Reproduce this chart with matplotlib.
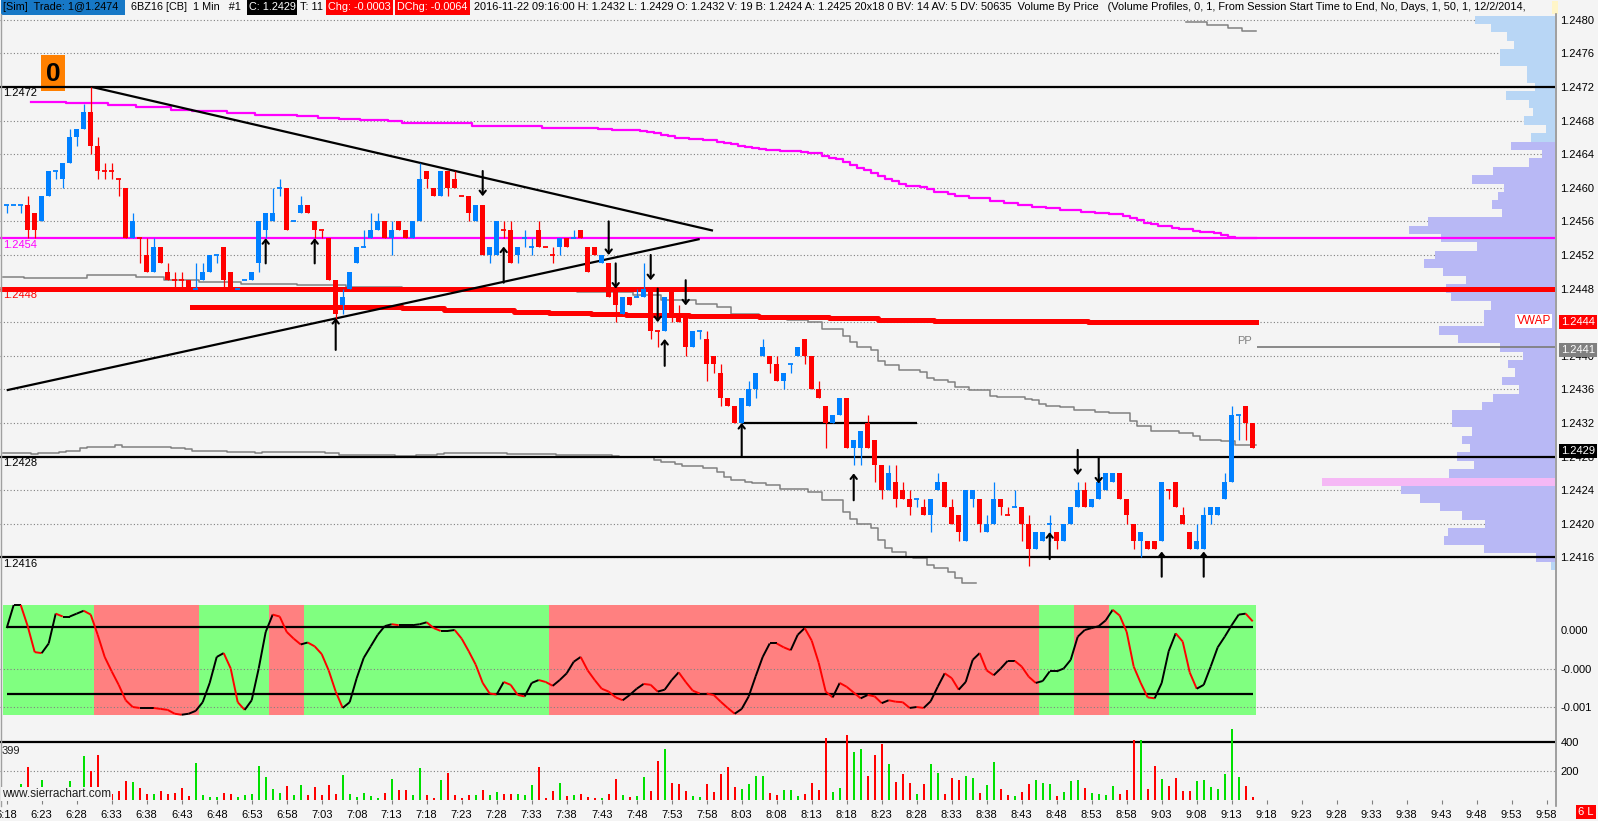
import matplotlib
matplotlib.use("Agg")
import matplotlib.pyplot as plt
import matplotlib.patches as patches
from matplotlib.collections import LineCollection
from matplotlib.lines import Line2D
from matplotlib.ticker import FormatStrFormatter
import numpy as np

plt.rcParams['font.family'] = ['Liberation Sans', 'DejaVu Sans']
plt.rcParams['font.size'] = 8

# ---------------------------------------------------------------- data
# 6BZ16 1-min bars from 6:18 to 9:16, prices in ticks (0.0001) above 1.2400
TICK = 0.0001
BASE = 1.2400
START_MIN = 6 * 60 + 18

opens = [58, 58, 58, 58, 57, 56, 59, 62, 61, 63,
         66, 67, 69, 65, 62, 62, 61, 60, 54, 54,
         52, 50, 53, 50, 49, 49, 49, 48, 49, 50,
         52, 53, 50, 48, 49, 49, 51, 55, 56, 60,
         60, 56, 57, 58, 56, 55, 54, 49, 46, 48,
         51, 53, 54, 55, 56, 54, 56, 55, 54, 56,
         62, 60, 59, 62, 61, 59, 59, 56, 58, 52,
         52, 55, 55, 52, 54, 53, 55, 53, 52, 53,
         54, 54, 55, 53, 53, 51, 51, 48, 45, 47,
         47, 47, 48, 43, 43, 48, 45, 45, 41, 43,
         42, 40, 38, 35, 34, 32, 34, 36, 40, 40,
         39, 37, 39, 40, 42, 40, 36, 34, 32, 33,
         35, 29, 29, 32, 30, 27, 24, 25, 24, 23,
         23, 22, 21, 24, 25, 22, 21, 18, 23, 23,
         19, 20, 23, 21, 22, 22, 20, 17, 18, 20,
         19, 18, 20, 22, 24, 22, 23, 24, 25, 26,
         23, 20, 18, 18, 18, 18, 24, 25, 21, 19,
         17, 17, 21, 21, 23, 25, 33, 34, 32]
highs = [58, 58, 58, 59, 57, 59, 62, 62, 63, 67,
         67, 70, 72, 66, 63, 63, 61, 60, 57, 54,
         54, 54, 53, 51, 50, 50, 49, 51, 51, 52,
         52, 53, 50, 48, 49, 50, 56, 57, 60, 61,
         60, 56, 59, 58, 56, 55, 54, 49, 48, 50,
         53, 55, 57, 57, 56, 56, 56, 55, 56, 63,
         62, 60, 62, 62, 62, 59, 59, 58, 58, 53,
         56, 56, 56, 53, 55, 54, 56, 53, 53, 54,
         54, 55, 55, 53, 53, 52, 51, 48, 47, 47,
         48, 51, 48, 43, 47, 48, 46, 45, 43, 43,
         43, 40, 39, 35, 34, 35, 37, 38, 42, 40,
         40, 38, 39, 41, 42, 40, 37, 34, 33, 35,
         35, 30, 31, 33, 30, 27, 27, 27, 25, 24,
         23, 23, 23, 26, 25, 23, 21, 24, 24, 23,
         21, 25, 23, 22, 24, 22, 21, 19, 19, 21,
         19, 20, 22, 25, 25, 23, 26, 26, 26, 26,
         23, 20, 19, 18, 18, 25, 24, 25, 22, 19,
         20, 22, 22, 22, 26, 34, 33, 34, 32]
lows = [57, 58, 57, 54, 54, 56, 59, 61, 60, 63,
        65, 67, 64, 61, 61, 61, 59, 54, 54, 51,
        50, 50, 51, 49, 48, 48, 48, 48, 49, 50,
        51, 48, 48, 48, 49, 49, 50, 54, 56, 59,
        55, 56, 57, 57, 54, 54, 49, 44, 45, 48,
        51, 53, 54, 55, 54, 52, 55, 54, 54, 56,
        60, 59, 59, 59, 60, 59, 56, 56, 52, 51,
        52, 54, 51, 51, 53, 52, 53, 53, 51, 52,
        53, 54, 54, 50, 52, 51, 47, 44, 45, 46,
        47, 47, 42, 41, 43, 44, 44, 40, 41, 42,
        37, 38, 34, 34, 32, 32, 34, 35, 40, 38,
        37, 36, 38, 40, 39, 36, 35, 29, 32, 33,
        29, 27, 27, 29, 25, 23, 24, 22, 23, 21,
        22, 21, 19, 24, 22, 20, 18, 18, 22, 19,
        19, 20, 21, 21, 22, 18, 15, 17, 18, 18,
        17, 18, 20, 22, 22, 22, 23, 24, 25, 23,
        20, 17, 16, 17, 17, 18, 23, 22, 20, 17,
        17, 17, 20, 21, 23, 25, 30, 30, 29]
closes = [58, 58, 58, 55, 55, 59, 62, 62, 63, 66,
          67, 69, 65, 62, 62, 62, 61, 54, 56, 54,
          50, 53, 51, 49, 49, 49, 48, 48, 50, 52,
          52, 49, 48, 48, 49, 50, 56, 57, 57, 60,
          55, 56, 58, 57, 55, 55, 49, 45, 47, 50,
          53, 53, 55, 56, 54, 55, 55, 54, 56, 61,
          61, 59, 62, 60, 60, 59, 57, 58, 52, 53,
          56, 55, 51, 53, 54, 53, 53, 53, 52, 54,
          53, 54, 54, 50, 52, 52, 47, 46, 47, 46,
          47, 48, 43, 43, 47, 45, 44, 41, 43, 43,
          39, 39, 35, 34, 32, 35, 36, 38, 41, 39,
          37, 38, 39, 41, 40, 36, 35, 32, 33, 35,
          29, 30, 31, 29, 27, 24, 26, 23, 23, 22,
          23, 21, 23, 25, 22, 20, 19, 24, 24, 20,
          20, 23, 22, 21, 22, 20, 17, 19, 19, 20,
          18, 20, 22, 24, 22, 23, 25, 26, 26, 23,
          21, 18, 19, 17, 17, 25, 24, 22, 20, 17,
          18, 21, 22, 22, 25, 33, 33, 32, 29]
# dojis printed in the up colour
blue_dojis = [0, 1, 2, 7, 27, 30, 33, 34, 39, 41, 51, 74, 75, 81, 90, 99,
              112, 130, 144, 149, 176]

volumes = [40, 30, 112, 226, 50, 140, 45, 30, 50, 133,
           60, 307, 203, 315, 50, 40, 63, 133, 123, 86,
           42, 42, 63, 42, 47, 86, 30, 256, 35, 21,
           21, 49, 42, 21, 35, 42, 233, 161, 77, 49,
           98, 35, 105, 35, 93, 35, 105, 42, 175, 42,
           21, 49, 30, 16, 49, 147, 70, 70, 35, 224,
           35, 14, 140, 189, 35, 14, 35, 35, 70, 35,
           56, 42, 42, 42, 35, 105, 226, 14, 63, 119,
           28, 35, 42, 21, 14, 14, 42, 147, 35, 21,
           28, 161, 63, 268, 356, 119, 112, 63, 28, 21,
           112, 56, 182, 226, 91, 77, 112, 168, 168, 49,
           35, 70, 70, 28, 42, 119, 70, 433, 56, 84,
           447, 336, 356, 168, 315, 391, 252, 126, 182, 119,
           42, 112, 252, 189, 42, 154, 140, 168, 154, 49,
           105, 266, 77, 35, 28, 56, 112, 140, 119, 112,
           28, 56, 133, 140, 84, 49, 42, 35, 98, 42,
           70, 419, 419, 77, 238, 147, 98, 154, 63, 63,
           133, 140, 91, 77, 182, 489, 161, 98, 19]

# oscillator study, units of 1e-4
osc = [0.2, 2.6, 2.6, 0.4, -2.3, -2.4, -1.4, 1.7, 1.4, 1.4,
       1.7, 2.0, 1.6, -0.5, -2.8, -4.3, -5.7, -7.3, -8.0, -8.1,
       -8.1, -8.1, -8.2, -8.3, -8.7, -8.8, -8.7, -8.4, -7.5, -5.5,
       -2.8, -2.4, -4.0, -7.5, -8.3, -7.3, -4.0, -0.2, 1.6, 1.4,
       -0.2, -0.9, -1.5, -1.3, -1.7, -2.5, -4.2, -6.4, -8.1, -7.5,
       -5.0, -2.9, -1.7, -0.5, 0.4, 0.6, 0.5, 0.5, 0.5, 0.6,
       0.8, 0.2, -0.1, -0.1, 0.0, -0.9, -2.2, -3.6, -5.5, -6.6,
       -6.7, -5.4, -5.7, -6.75, -6.9, -5.5, -5.2, -5.4, -5.8, -5.2,
       -4.5, -3.3, -2.8, -4.2, -5.2, -6.1, -6.4, -7.0, -7.3, -6.75,
       -6.1, -5.6, -5.7, -6.4, -6.2, -5.2, -4.4, -5.4, -6.3, -6.6,
       -6.6, -6.75, -7.45, -8.1, -8.7, -8.2, -6.9, -4.8, -2.8, -1.4,
       -1.4, -1.8, -2.1, -0.5, 0.2, -1.1, -3.4, -6.4, -7.0, -5.5,
       -5.9, -6.5, -7.1, -6.75, -6.9, -7.6, -7.3, -7.45, -7.5, -8.1,
       -8.0, -8.1, -7.4, -5.9, -4.5, -5.0, -6.2, -5.4, -3.1, -2.4,
       -4.2, -4.7, -4.0, -3.2, -3.2, -3.8, -4.85, -5.5, -5.3, -4.3,
       -4.3, -4.0, -3.1, -0.7, 0.0, 0.2, 0.4, 1.0, 2.1, 1.5,
       -0.2, -3.8, -5.5, -7.0, -7.1, -5.5, -2.2, -0.35, -1.2, -4.4,
       -6.1, -5.7, -3.8, -1.8, -0.7, 0.5, 1.6, 1.7, 0.9]
osc_bands = [(0, 12, 'g'), (13, 27, 'r'), (28, 37, 'g'), (38, 42, 'r'),
             (43, 77, 'g'), (78, 147, 'r'), (148, 152, 'g'), (153, 157, 'r'),
             (158, 178, 'g')]
osc_band_top, osc_band_bottom = 2.6, -8.83
osc_levels = [0.35, -6.68]

# step studies: (first bar, value in ticks)
mag_starts = [4, 9, 15, 19, 24, 27, 32, 36, 42, 45, 48, 51, 55, 57, 67, 77, 85, 87, 91, 92,
              93, 94, 95, 96, 98, 100, 102, 103, 104, 105, 106, 107, 108, 109, 111, 114, 115, 117, 118, 119,
              120, 121, 122, 123, 124, 125, 126, 127, 128, 129, 131, 132, 133, 135, 136, 138, 141, 143, 145, 147,
              149, 151, 152, 154, 156, 158, 160, 161, 162, 163, 164, 165, 167, 168, 170, 171, 173, 174, 175, 176]
mag_vals = [70.25, 70.05, 69.85, 69.65, 69.3, 69.1, 68.9, 68.7, 68.5, 68.3,
            68.15, 68.07, 67.9, 67.7, 67.4, 67.15, 67.0, 66.88, 66.76, 66.64,
            66.5, 66.3, 66.16, 65.97, 65.8, 65.7, 65.5, 65.33, 65.17, 65.0,
            64.85, 64.7, 64.6, 64.5, 64.4, 64.26, 64.2, 63.8, 63.6, 63.4,
            63.1, 62.7, 62.4, 62.1, 61.8, 61.4, 61.0, 60.8, 60.5, 60.25,
            60.1, 59.85, 59.5, 59.3, 59.0, 58.8, 58.4, 58.2, 57.95, 57.75,
            57.6, 57.4, 57.3, 57.1, 56.95, 56.9, 56.7, 56.4, 56.2, 55.85,
            55.65, 55.4, 55.2, 55.1, 54.9, 54.7, 54.6, 54.4, 54.2, 54.05]
upper_starts = [0, 3, 12, 19, 23, 28, 34, 42, 49, 57, 70, 82, 90, 94, 99, 102, 104, 108, 112, 115,
                117, 120, 121, 122, 124, 125, 126, 128, 131, 132, 133, 135, 136, 138, 141, 142, 146, 147, 148, 149,
                151, 153, 156, 158, 161, 162, 164, 168, 170, 171, 174, 176]
upper_vals = [49.4, 49.3, 49.6, 49.4, 49.0, 48.8, 48.6, 48.4, 48.2, 48.0,
              47.8, 47.55, 47.2, 46.6, 46.2, 45.8, 45.0, 44.6, 44.3, 44.06,
              43.15, 42.3, 41.7, 41.1, 40.7, 39.4, 38.9, 38.3, 38.1, 37.3,
              37.1, 36.9, 36.3, 35.9, 35.2, 35.05, 34.9, 34.7, 34.3, 34.0,
              33.9, 33.5, 33.35, 33.15, 32.2, 31.6, 31.1, 30.8, 30.4, 30.0, 29.9, 29.4]
lower_starts = [0, 4, 5, 8, 9, 11, 12, 13, 16, 17, 20, 24, 26, 27, 32, 36, 37, 46, 48, 56,
                59, 62, 63, 72, 79, 87, 88, 93, 94, 96, 97, 100, 102, 103, 104, 106, 107, 109, 111, 115,
                117, 120, 121, 122, 124, 125, 126, 127, 129, 130, 132, 133, 135, 136, 137]
lower_vals = [28.39, 28.27, 28.39, 28.5, 28.67, 28.98, 29.1, 29.2, 29.34, 29.2,
              29.1, 28.98, 28.87, 28.67, 28.55, 28.43, 28.55, 28.43, 28.15, 28.03,
              28.15, 28.31, 28.43, 28.31, 28.15, 28.03, 27.95, 27.6, 27.4, 27.1,
              26.9, 26.6, 26.2, 25.6, 25.2, 25.0, 24.8, 24.6, 24.2, 23.8,
              22.8, 21.4, 20.6, 20.0, 19.5, 18.1, 17.1, 16.7, 16.0, 15.9,
              15.1, 14.7, 14.3, 13.5, 13.0]
top_starts = [169, 172, 175, 177]
top_vals = [79.7, 79.4, 79.0, 78.7]
vwap_starts = [27, 57, 63, 68, 73, 78, 84, 89, 98, 108, 118, 125, 133, 140, 155]
vwap_vals = [45.8, 45.65, 45.45, 45.4, 45.25, 45.1, 44.97, 44.86, 44.77, 44.65,
             44.45, 44.3, 44.2, 44.14, 44.05]

# drawn tools
level_prices = [1.2472, 1.2454, 1.2448, 1.2428, 1.2416]
pp_price = 1.2441
short_line = (105, 130, 1.2432)
tri_upper = [(12.2, 72.0), (100.9, 54.9)]
tri_lower = [(0.0, 35.9), (99.0, 53.9)]
# (bar, tail, tip) in ticks
up_arrows = [(37, 51, 54), (44, 51, 54), (47, 40.7, 44.5), (71, 48.7, 53), (94, 38.8, 42),
             (105, 28, 32), (121, 22.8, 26), (149, 15.8, 19), (165, 13.7, 16.7), (171, 13.7, 16.7)]
down_arrows = [(68, 62, 59), (86, 56, 52), (87, 51, 48), (92, 52, 49), (93, 48, 44),
               (97, 49, 46), (153, 28.8, 25.8), (156, 27.9, 24.8)]

# volume by price, rows from 1.2480 down to 1.2415
profile_top = 80
profile_vol = [80, 64, 48, 41, 55, 55, 28, 28, 20, 49, 26, 22, 31, 9, 24,
               44, 13, 26, 62, 83, 51, 57, 63, 53, 127, 146, 114, 78, 120, 131,
               112, 89, 109, 104, 64, 71, 71, 116, 97, 55, 32, 47, 40, 53, 36,
               62, 73, 103, 103, 83, 93, 85, 98, 81, 106, 233, 154, 135, 115, 93,
               70, 107, 111, 71, 19, 4]
profile_poc = 25
value_area = (16, 65)

# ---------------------------------------------------------------- style
W, H = 1598, 821
BG = '#F4F4F4'
BLUE = '#0080FF'
RED = '#FF0000'
GREEN = '#00E000'
GRID = '#808080'
X0, X1 = -6.7 / 7, (1555 - 6.7) / 7


def px(t):
    return BASE + np.asarray(t, dtype=float) * TICK


fig = plt.figure(figsize=(W / 100, H / 100), dpi=100)
fig.patch.set_facecolor(BG)


def add_px_axes(x0, y0, x1, y1):
    a = fig.add_axes([x0 / W, 1 - y1 / H, (x1 - x0) / W, (y1 - y0) / H])
    a.set_facecolor('none')
    for s in a.spines.values():
        s.set_visible(False)
    a.set_xlim(X0, X1)
    a.yaxis.set_ticks_position('right')
    a.tick_params(axis='y', length=0, pad=4, labelsize=8)
    return a


def ftext(x, y, s, **kw):
    return fig.text(x / W, 1 - y / H, s, **kw)


def frect(x0, y0, x1, y1, color, z=1):
    r = patches.Rectangle((x0 / W, 1 - y1 / H), (x1 - x0) / W, (y1 - y0) / H,
                          transform=fig.transFigure, facecolor=color,
                          edgecolor='none', zorder=z)
    fig.add_artist(r)


def step_line(ax, starts, vals, end, **kw):
    xs = [s - 0.5 for s in starts] + [end]
    ys = list(px(vals)) + [px(vals[-1])]
    ax.step(xs, ys, where='post', **kw)


n = len(opens)
idx = np.arange(n)
o_t, h_t, l_t, c_t = (np.array(v) for v in (opens, highs, lows, closes))
up = (c_t > o_t) | ((c_t == o_t) & np.isin(idx, blue_dojis))

# ---------------------------------------------------------------- price pane
ax = add_px_axes(0, 16, 1555, 590)
ax.set_ylim(px(12.12), px(80.45))
ax.set_xticks([])
grid_prices = px(np.arange(16, 81, 4))
ax.set_yticks(grid_prices)
ax.yaxis.set_major_formatter(FormatStrFormatter('%.4f'))
ax.hlines(grid_prices, X0, X1, colors=GRID, linestyles=(0, (1, 2)), lw=0.8, zorder=0.5)

# volume profile on the right edge
rows = profile_top - np.arange(len(profile_vol))
pw = np.array(profile_vol) / 7.0
pcol = ['#F5B8F5' if r == profile_poc else
        ('#B8B8F5' if value_area[0] <= r <= value_area[1] else '#B8D6F5') for r in rows]
ax.barh(px(rows), pw, height=TICK, left=X1 - pw, color=pcol, linewidth=0, zorder=1)

# orange bar counter box
ax.add_patch(patches.Rectangle((41 / W, 1 - 91 / H), 24 / W, 36 / H, transform=fig.transFigure,
                               facecolor='#FF8000', edgecolor='none', zorder=1.5))
ax.text(53 / W, 1 - 74 / H, '0', transform=fig.transFigure, ha='center', va='center',
        fontsize=19, fontweight='bold', color='black', zorder=1.6)

# studies
step_line(ax, lower_starts, lower_vals, 138.5, color='#808080', lw=1.1, zorder=2)
step_line(ax, upper_starts, upper_vals, 178.5, color='#808080', lw=1.1, zorder=2)
step_line(ax, top_starts, top_vals, 178.5, color='#808080', lw=1.1, zorder=2)
step_line(ax, mag_starts, mag_vals, 178.5, color='#FF00FF', lw=1.6, zorder=2.2)
step_line(ax, vwap_starts, vwap_vals, 178.5, color=RED, lw=3.6, zorder=2.3)

# horizontal levels
lvl_styles = [('black', 1.6), ('#FF00FF', 1.6), (RED, 3.6), ('black', 1.6), ('black', 1.6)]
for p, (col, lw) in zip(level_prices, lvl_styles):
    ax.hlines(p, X0, X1, colors=col, lw=lw, zorder=2.5)
ax.hlines(pp_price, 178.6, X1, colors='#808080', lw=1.3, zorder=2.5)
ax.hlines(short_line[2], short_line[0], short_line[1], colors='black', lw=1.6, zorder=2.5)

# triangle
for (xa, ya), (xb, yb) in (tri_upper, tri_lower):
    ax.plot([xa, xb], px([ya, yb]), color='black', lw=1.6, zorder=2.6,
            solid_capstyle='butt')

# candles
col = np.where(up, BLUE, RED)
ax.vlines(idx, px(l_t), px(h_t), colors=col, lw=0.9, zorder=4)
m = c_t != o_t
ax.bar(idx[m], np.abs(c_t - o_t)[m] * TICK, bottom=px(np.minimum(o_t, c_t))[m],
       width=5 / 7, color=col[m], linewidth=0, zorder=4)
d = ~m
ax.hlines(px(o_t[d]), idx[d] - 2.5 / 7, idx[d] + 2.5 / 7, colors=col[d], lw=1.3, zorder=4)

# arrows
arrow_kw = dict(arrowstyle='->,head_length=0.35,head_width=0.28', color='black', lw=1.5,
                shrinkA=0, shrinkB=0)
for i, tail, tip in up_arrows + down_arrows:
    ax.annotate('', xy=(i, px(tip)), xytext=(i, px(tail)), arrowprops=arrow_kw, zorder=5)

# left level labels
for p, lab_col in zip(level_prices, ['black', '#FF00FF', RED, 'black', 'black']):
    yp = 87 + (1.2472 - p) / TICK * 8.4
    ftext(3, yp + 1.5, '%.4f' % p, ha='left', va='top', fontsize=8, color=lab_col)

# right side labels
ftext(1252, 341, 'PP', ha='right', va='center', fontsize=8, color='#808080')
ftext(1551, 321, 'VWAP', ha='right', va='center', fontsize=8.5, color=RED,
      bbox=dict(boxstyle='square,pad=0.12', fc='white', ec='none'), zorder=6)
ftext(1561, 322, '1.2444', ha='left', va='center', fontsize=8, color='white',
      bbox=dict(boxstyle='square,pad=0.2', fc=RED, ec='none'), zorder=6)
ftext(1561, 350, '1.2441', ha='left', va='center', fontsize=8, color='white',
      bbox=dict(boxstyle='square,pad=0.2', fc='#808080', ec='none'), zorder=6)
ftext(1561, 451, '1.2429', ha='left', va='center', fontsize=8, color='white',
      bbox=dict(boxstyle='square,pad=0.2', fc='black', ec='none'), zorder=6)

# ---------------------------------------------------------------- oscillator pane
axo = add_px_axes(0, 590, 1555, 722)
axo.set_ylim(-9.558e-4, 4.156e-4)
axo.set_xticks([])
axo.set_yticks([0, -0.0004, -0.0008])
axo.yaxis.set_major_formatter(FormatStrFormatter('%.3f'))
for s, e, c in osc_bands:
    axo.add_patch(patches.Rectangle((s - 0.5, osc_band_bottom * 1e-4), e - s + 1,
                                    (osc_band_top - osc_band_bottom) * 1e-4,
                                    facecolor='#80FF80' if c == 'g' else '#FF8080',
                                    edgecolor='none', zorder=0.3))
axo.hlines([-0.0004, -0.0008], X0, X1, colors=GRID, linestyles=(0, (1, 2)), lw=0.8, zorder=0.5)
axo.hlines(np.array(osc_levels) * 1e-4, 0, n - 1, colors='black', lw=1.6, zorder=2)
ov = np.array(osc) * 1e-4
segs = [[(i, ov[i]), (i + 1, ov[i + 1])] for i in range(n - 1)]
seg_cols = ['black' if ov[i + 1] >= ov[i] else RED for i in range(n - 1)]
axo.add_collection(LineCollection(segs, colors=seg_cols, linewidths=1.4, zorder=3))

# ---------------------------------------------------------------- volume pane
axv = add_px_axes(0, 722, 1555, 800)
axv.set_ylim(0, 540.5)
axv.set_yticks([200, 400])
axv.hlines(200, X0, X1, colors=GRID, linestyles=(0, (1, 2)), lw=0.8, zorder=0.5)
axv.hlines(400, X0, X1, colors='black', lw=1.6, zorder=2)
axv.bar(idx, volumes, width=2 / 7, color=np.where(up, GREEN, RED), linewidth=0, zorder=3)
tick_pos = np.arange(0, 221, 5)
axv.set_xticks(tick_pos)
axv.set_xticklabels(['%d:%02d' % divmod(START_MIN + int(t), 60) for t in tick_pos])
axv.tick_params(axis='x', length=3, color='#808080', pad=4, labelsize=8)

ftext(2, 751, '399', ha='left', va='center', fontsize=8, color='#202020')
ftext(2, 794, 'www.sierrachart.com', ha='left', va='center', fontsize=8.5, color='#202020',
      bbox=dict(boxstyle='square,pad=0.1', fc=BG, ec='none'), zorder=6)

# frame lines
fig.add_artist(Line2D([1555.5 / W] * 2, [1 - 14 / H, 1 - 806 / H], transform=fig.transFigure,
                      color='#909090', lw=1.2))
fig.add_artist(Line2D([1 / W] * 2, [1 - 14 / H, 1 - 806 / H], transform=fig.transFigure,
                      color='#A0A0A0', lw=1.0))

# ---------------------------------------------------------------- header
HFS = 7.8
frect(1, 0, 125, 15, '#1778C6')
ftext(3, 7.5, '[Sim]  Trade: 1@1.2474', ha='left', va='center', fontsize=HFS, color='black', zorder=3)
ftext(131, 7.5, '6BZ16 [CB]  1 Min   #1', ha='left', va='center', fontsize=HFS, color='black')
frect(247, 0, 297, 15, 'black')
ftext(249, 7.5, 'C: 1.2429', ha='left', va='center', fontsize=HFS, color='white', zorder=3)
ftext(300, 7.5, 'T: 11', ha='left', va='center', fontsize=HFS, color='black')
frect(326, 0, 393, 15, RED)
ftext(328, 7.5, 'Chg: -0.0003', ha='left', va='center', fontsize=HFS, color='white', zorder=3)
frect(395, 0, 470, 15, RED)
ftext(397, 7.5, 'DChg: -0.0064', ha='left', va='center', fontsize=HFS, color='white', zorder=3)
ftext(474, 7.5, '2016-11-22 09:16:00 H: 1.2432 L: 1.2429 O: 1.2432 V: 19 B: 1.2424 '
      'A: 1.2425 20x18 0 BV: 14 AV: 5 DV: 50635  Volume By Price   (Volume Profiles, 0, 1, '
      'From Session Start Time to End, No, Days, 1, 50, 1, 12/2/2014,',
      ha='left', va='center', fontsize=7.95, color='black')
frect(1552, 1, 1558, 14, '#FFF5C8')

# footer box
frect(1576, 805, 1596, 819, RED)
ftext(1586, 812, '6 L', ha='center', va='center', fontsize=8, color='white', zorder=3)

fig.savefig('out.png', dpi=100, facecolor=BG)
